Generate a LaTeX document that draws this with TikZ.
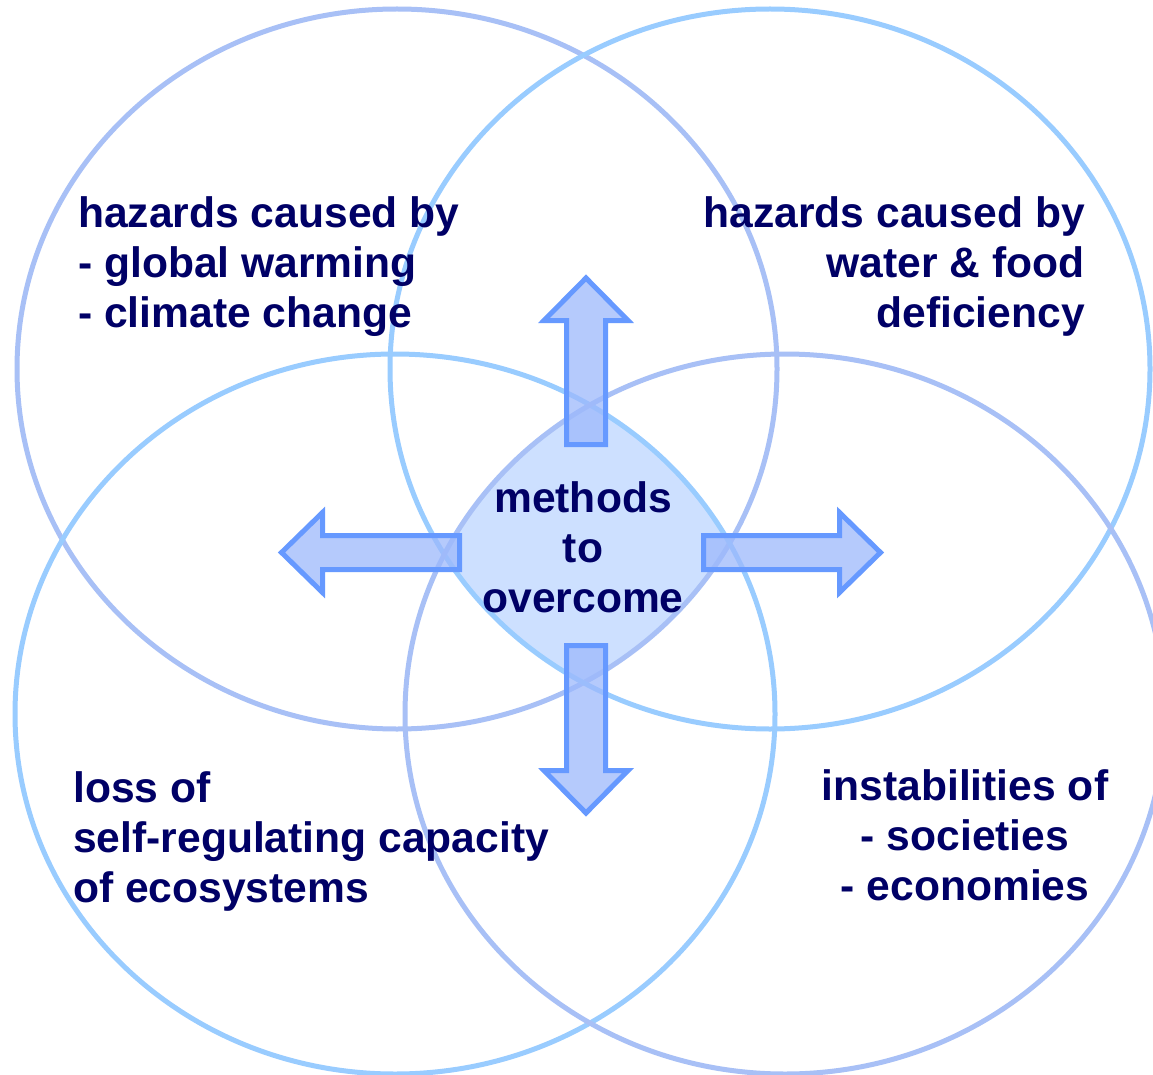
\documentclass[tikz,border=0pt]{standalone}
\usepackage{fontspec}
\setmainfont{Liberation Sans}
\definecolor{txtnavy}{HTML}{000066}
\definecolor{ringsolid}{HTML}{99CCFF}
\definecolor{ringdot}{HTML}{A8C0F6}
\definecolor{lensfill}{HTML}{CDE0FF}
\definecolor{arrowedge}{HTML}{6699FF}
\definecolor{arrowfill}{HTML}{9DB9FC}
\begin{document}
\begin{tikzpicture}[x=1pt,y=-1pt,
  ringA/.style={draw=ringsolid, line width=5pt},
  ringB/.style={draw=ringdot, line width=5pt},
  lbl/.style={text=txtnavy, font=\bfseries\fontsize{42.6}{50}\selectfont, inner sep=0pt},
  arrowshape/.style={draw=arrowedge, line width=5pt, fill=arrowfill, fill opacity=0.75, line join=miter}]
\useasboundingbox (0,0) rectangle (1153,1075);
\fill[white] (0,0) rectangle (1153,1075);
\coordinate (cTL) at (397,369);
\coordinate (cTR) at (770,369);
\coordinate (cBL) at (395,714);
\coordinate (cBR) at (785,714);
% central lens
\begin{scope}
\clip (cTL) ellipse [x radius=380pt, y radius=360pt];
\clip (cTR) ellipse [x radius=380pt, y radius=360pt];
\clip (cBL) ellipse [x radius=380pt, y radius=360pt];
\clip (cBR) ellipse [x radius=380pt, y radius=360pt];
\fill[lensfill] (0,0) rectangle (1153,1075);
\end{scope}
% rings
\draw[ringB] (cTL) ellipse [x radius=380pt, y radius=360pt];
\draw[ringA] (cTR) ellipse [x radius=380pt, y radius=360pt];
\draw[ringA] (cBL) ellipse [x radius=380pt, y radius=360pt];
\draw[ringB] (cBR) ellipse [x radius=380pt, y radius=360pt];
% arrows
\draw[arrowshape] (566.5,444.5) -- (566.5,320.5) -- (544,320.5) -- (586,278) -- (628,320.5) -- (605.5,320.5) -- (605.5,444.5) -- cycle;
\draw[arrowshape] (566.5,645.5) -- (566.5,770.5) -- (544,770.5) -- (586,813) -- (628,770.5) -- (605.5,770.5) -- (605.5,645.5) -- cycle;
\draw[arrowshape] (459.5,535.5) -- (322.5,535.5) -- (322.5,512.5) -- (281.5,552.5) -- (322.5,592.5) -- (322.5,569.5) -- (459.5,569.5) -- cycle;
\draw[arrowshape] (703.5,535.5) -- (839.5,535.5) -- (839.5,512.5) -- (880.5,552.5) -- (839.5,592.5) -- (839.5,569.5) -- (703.5,569.5) -- cycle;
% texts (base anchor = baseline of last line)
\node[lbl, anchor=base west, align=left] (tl) at (78,327) {hazards caused by\\- global warming\\- climate change};
\node[lbl, anchor=base east, align=right] (tr) at (1085,327) {hazards caused by\\water \& food\\deficiency};
\node[lbl, anchor=base west, align=left] (bl) at (73,902) {loss of\\self-regulating capacity\\of ecosystems};
\node[lbl, anchor=base, align=center] (br) at (965,900) {instabilities of\\- societies\\- economies};
\node[lbl, anchor=base, align=center] (mid) at (583,612) {methods\\to\\overcome};
\end{tikzpicture}
\end{document}
